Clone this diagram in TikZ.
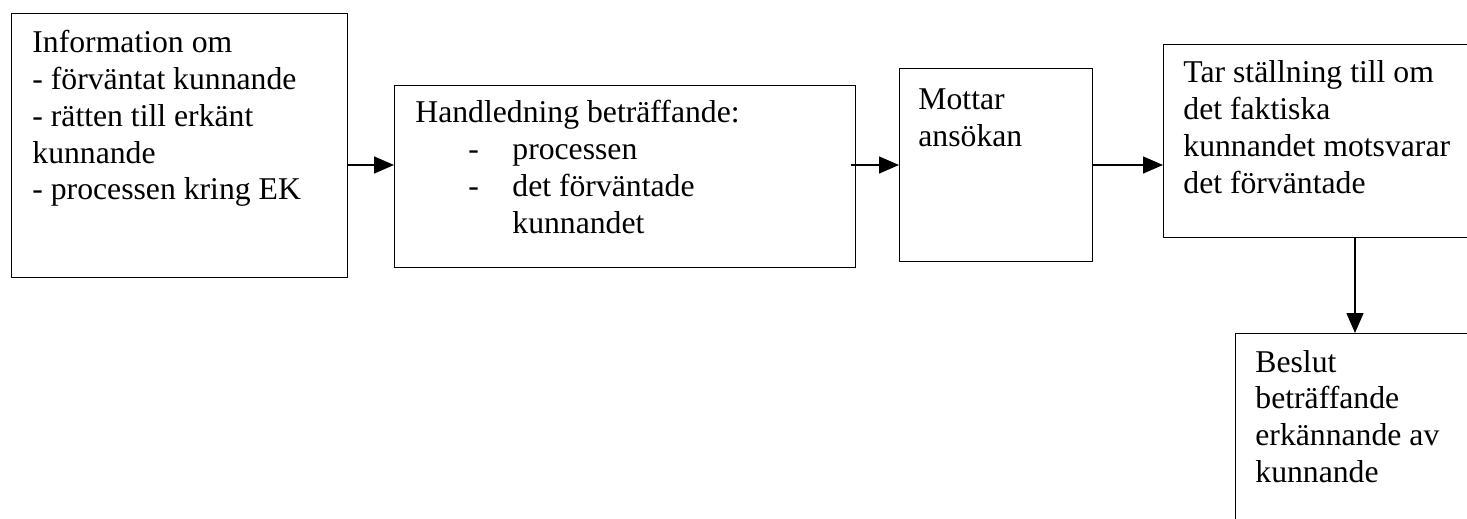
\documentclass[tikz,border=0pt]{standalone}
\usepackage{fontspec}
\setmainfont{Liberation Serif}
\usetikzlibrary{arrows.meta}
\begin{document}
\begin{tikzpicture}[x=0.5pt,y=-0.5pt,
  box/.style={draw, line width=0.7pt, rectangle, inner sep=0pt, anchor=north west},
  txt/.style={anchor=base west, inner sep=0pt, font=\fontsize{15.85}{18.35}\selectfont},
  conn/.style={line width=0.7pt, -{Triangle[length=10pt,width=8.5pt]}}]
\useasboundingbox (0,0) rectangle (1467,519);
\clip (0,0) rectangle (1467,519);
\node[box, minimum width=168pt, minimum height=132pt] (b1) at (11,13) {};
\node[box, minimum width=230.5pt, minimum height=91pt] (b2) at (394,85) {};
\node[box, minimum width=96.5pt, minimum height=96.5pt] (b3) at (899,68) {};
\node[box, minimum width=200pt, minimum height=96.5pt] (b4) at (1163,44) {};
\node[box, minimum width=200pt, minimum height=150pt] (b5) at (1235,333) {};
\node[txt] (t1) at (32,53) {\parbox[t]{160pt}{\raggedright Information om\\- förväntat kunnande\\- rätten till erkänt\\kunnande\\- processen kring EK}};
\node[txt] (t2) at (415,123) {\parbox[t]{220pt}{\raggedright Handledning beträffande:\\\hspace*{26.5pt}\makebox[22pt][l]{-}processen\\\hspace*{26.5pt}\makebox[22pt][l]{-}det förväntade\\\hspace*{48.5pt}kunnandet}};
\node[txt] (t3) at (918,110) {\parbox[t]{90pt}{\raggedright Mottar\\ansökan}};
\node[txt] (t4) at (1183,83) {\parbox[t]{150pt}{\raggedright Tar ställning till om\\det faktiska\\kunnandet motsvarar\\det förväntade}};
\node[txt] (t5) at (1255,372) {\parbox[t]{110pt}{\raggedright Beslut\\beträffande\\erkännande av\\kunnande}};
\coordinate (r) at (0,165);
\coordinate (v) at (1355,0);
\path ([xshift=-2.5pt]b2.east) coordinate (e2);
\draw[conn] (b1.east |- r) -- (b2.west |- r);
\draw[conn] (e2 |- r) -- (b3.west |- r);
\draw[conn] (b3.east |- r) -- (b4.west |- r);
\draw[conn] (b4.south -| v) -- (b5.north -| v);
\end{tikzpicture}
\end{document}
